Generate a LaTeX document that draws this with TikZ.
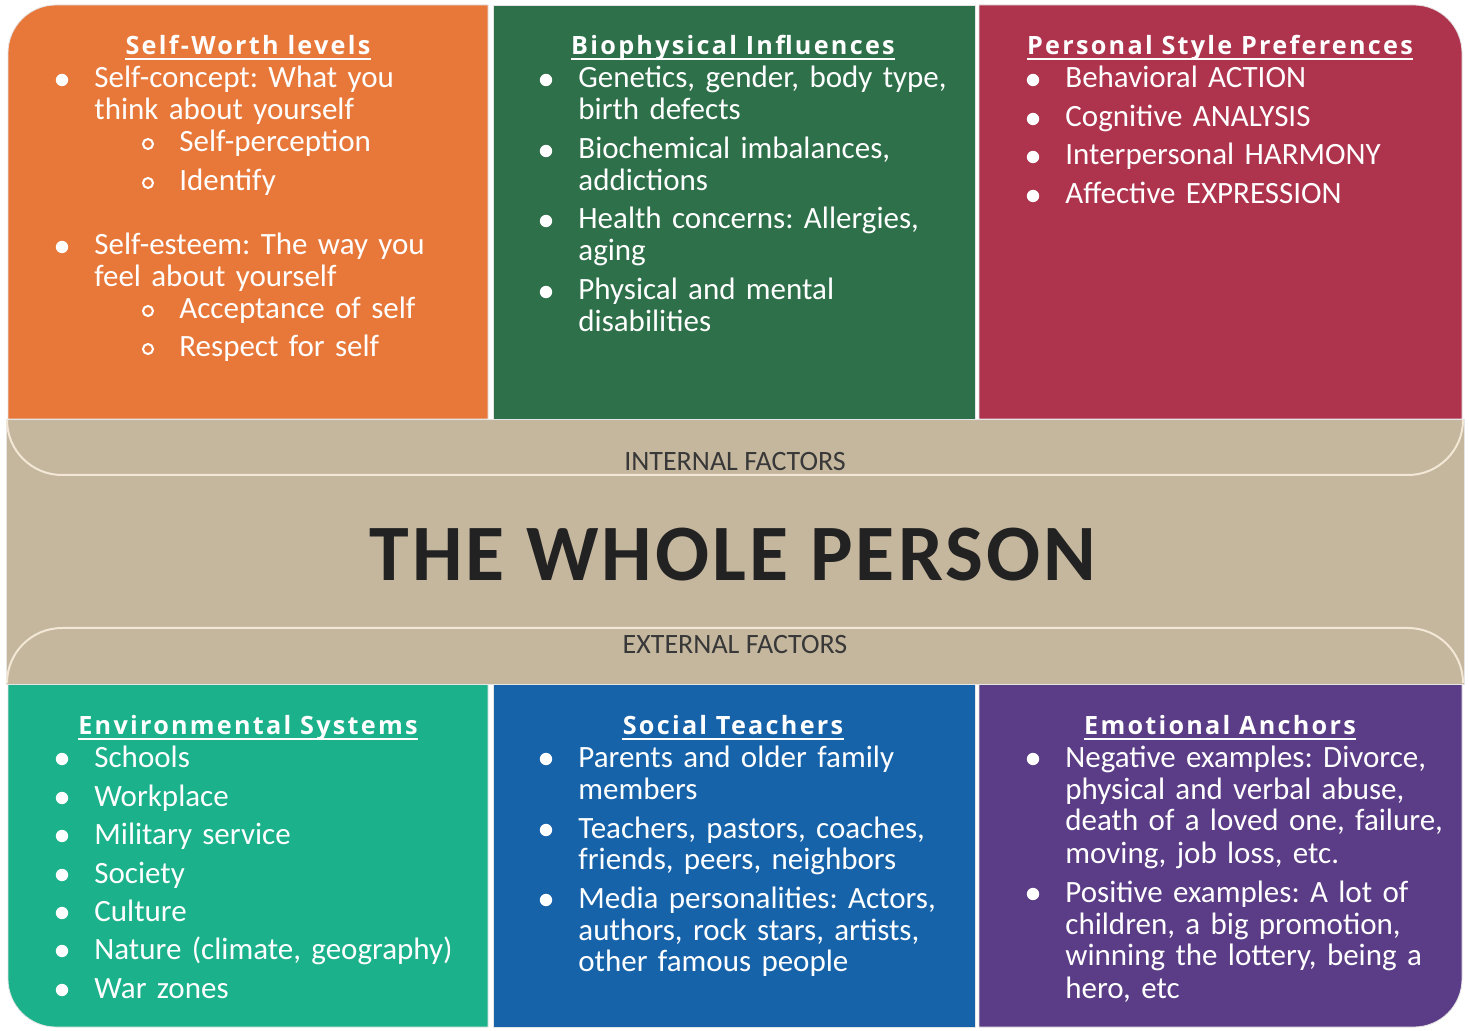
\documentclass[tikz,border=0pt]{standalone}
\usepackage{fontspec}
\setmainfont{Carlito}
\newfontfamily\headfont{Open Sans}[LetterSpace=9]
\newfontfamily\titlefont{Carlito}[LetterSpace=4]
\frenchspacing
\definecolor{swOrange}{HTML}{E8783A}
\definecolor{bioGreen}{HTML}{2E7049}
\definecolor{styleRed}{HTML}{AE334D}
\definecolor{envTeal}{HTML}{1AB18B}
\definecolor{socBlue}{HTML}{1763AA}
\definecolor{emoPurple}{HTML}{5B3C86}
\definecolor{bandTan}{HTML}{C5B79E}
\definecolor{bandLine}{HTML}{F2E8D5}
\definecolor{darkText}{HTML}{222222}

% bullet item: name, text x, baseline y (from top), text
\newcommand{\bul}[4]{%
  \fill[white] (#2-32,1030-#3+8) circle (6.2);
  \node[item] (#1) at (#2,1030-#3) {#4};}
\newcommand{\subbul}[4]{%
  \draw[white, line width=1pt] (#2-31,1030-#3+8) circle (5);
  \node[item] (#1) at (#2,1030-#3) {#4};}
\newcommand{\headline}[1]{%
  \draw[white, line width=1pt] ([yshift=-2pt]#1.base west) -- ([yshift=-2pt]#1.base east);}

\begin{document}
\begin{tikzpicture}[x=0.5pt, y=0.5pt,
    every node/.style={inner sep=0pt},
    panel/.style={draw=black!10, line width=0.4pt},
    head/.style={font=\headfont\bfseries\fontsize{12.6}{14}\selectfont, text=white, anchor=base},
    item/.style={font=\fontsize{15.5}{16}\selectfont, text=white, anchor=base west,
                 align=left, text width=200pt},
    factor/.style={font=\fontsize{14}{16}\selectfont, text=darkText!90}
  ]
  \fill[white] (0,0) rectangle (1469,1030);
  \useasboundingbox (0,0) rectangle (1469,1030);

  % top row: internal factors
  \filldraw[panel, fill=swOrange] (8,611) -- (8,977) arc[start angle=180, end angle=90, radius=48]
      -- (488,1025) -- (488,611) -- cycle;
  \filldraw[panel, fill=bioGreen] (493,611) rectangle (975,1025);
  \filldraw[panel, fill=styleRed] (979,611) -- (979,1025) -- (1414,1025)
      arc[start angle=90, end angle=0, radius=48] -- (1462,611) -- cycle;

  % bottom row: external factors
  \filldraw[panel, fill=envTeal] (8,346) -- (8,51) arc[start angle=180, end angle=270, radius=48]
      -- (488,3) -- (488,346) -- cycle;
  \filldraw[panel, fill=socBlue] (493,3) rectangle (975,346);
  \filldraw[panel, fill=emoPurple] (979,346) -- (979,3) -- (1414,3)
      arc[start angle=270, end angle=360, radius=48] -- (1462,346) -- cycle;

  % middle band
  \filldraw[panel, fill=bandTan] (6,346) rectangle (1464,611);
  \draw[bandLine, line width=1pt] (7,610) arc[start angle=180, end angle=270, radius=55]
      -- (1408,555) arc[start angle=270, end angle=360, radius=55];
  \draw[bandLine, line width=1pt] (7,347) arc[start angle=180, end angle=90, radius=55]
      -- (1408,402) arc[start angle=90, end angle=0, radius=55];

  \node[factor] (internal) at (735,568) {INTERNAL FACTORS};
  \node[font=\titlefont\bfseries\fontsize{40}{44}\selectfont, text=darkText] (whole) at (733,475) {THE WHOLE PERSON};
  \node[factor] (external) at (735,385) {EXTERNAL FACTORS};

  % Self-Worth levels
  \node[head] (swHead) at (248,975) {Self-Worth levels};
  \headline{swHead}
  \bul{sc}{94}{88}{Self-concept: What you\\think about yourself}
  \subbul{sp}{179}{152}{Self-perception}
  \subbul{idt}{179}{191}{Identify}
  \bul{se}{94}{255}{Self-esteem: The way you\\feel about yourself}
  \subbul{acc}{179}{319}{Acceptance of self}
  \subbul{res}{179}{357}{Respect for self}

  % Biophysical Influences
  \node[head] (bioHead) at (733,975) {Biophysical Influences};
  \headline{bioHead}
  \bul{gen}{578}{88}{Genetics, gender, body type,\\birth defects}
  \bul{chem}{578}{159}{Biochemical imbalances,\\addictions}
  \bul{hlth}{578}{229}{Health concerns: Allergies,\\aging}
  \bul{dis}{578}{300}{Physical and mental\\disabilities}

  % Personal Style Preferences
  \node[head] (styHead) at (1220,975) {Personal Style Preferences};
  \headline{styHead}
  \bul{beh}{1065}{88}{Behavioral ACTION}
  \bul{cog}{1065}{127}{Cognitive ANALYSIS}
  \bul{intp}{1065}{165}{Interpersonal HARMONY}
  \bul{aff}{1065}{204}{Affective EXPRESSION}

  % Environmental Systems
  \node[head] (envHead) at (248,295) {Environmental Systems};
  \headline{envHead}
  \bul{sch}{94}{767}{Schools}
  \bul{wrk}{94}{806}{Workplace}
  \bul{mil}{94}{844}{Military service}
  \bul{soc}{94}{883}{Society}
  \bul{cul}{94}{921}{Culture}
  \bul{nat}{94}{959}{Nature (climate, geography)}
  \bul{war}{94}{998}{War zones}

  % Social Teachers
  \node[head] (socHead) at (733,295) {Social Teachers};
  \headline{socHead}
  \bul{par}{578}{767}{Parents and older family\\members}
  \bul{tea}{578}{838}{Teachers, pastors, coaches,\\friends, peers, neighbors}
  \bul{med}{578}{908}{Media personalities: Actors,\\authors, rock stars, artists,\\other famous people}

  % Emotional Anchors
  \node[head] (emoHead) at (1220,295) {Emotional Anchors};
  \headline{emoHead}
  \bul{neg}{1065}{767}{Negative examples: Divorce,\\physical and verbal abuse,\\death of a loved one, failure,\\moving, job loss, etc.}
  \bul{pos}{1065}{902}{Positive examples: A lot of\\children, a big promotion,\\winning the lottery, being a\\hero, etc}
\end{tikzpicture}
\end{document}
